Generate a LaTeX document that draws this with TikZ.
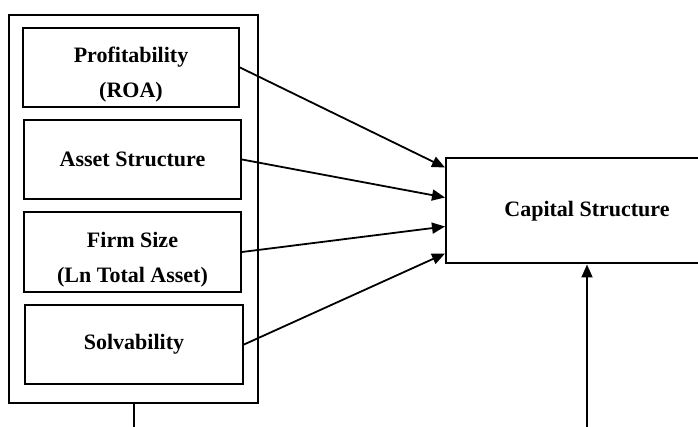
\documentclass[tikz,border=0pt]{standalone}
\usepackage{fontspec}
\setmainfont{Liberation Serif}
\usetikzlibrary{arrows.meta,calc}
\begin{document}
\begin{tikzpicture}[x=1pt,y=-1pt,
  box/.style={draw,line width=2pt,rectangle,inner sep=0pt,align=center,font=\bfseries\fontsize{22}{35}\selectfont},
  conn/.style={line width=1.8pt,-{Triangle[length=13pt,width=11pt]}},
  plain/.style={line width=2pt}]
\useasboundingbox (0,0) rectangle (698,427);
\clip (0,0) rectangle (698,427);
\node[box,minimum width=249pt,minimum height=388pt] (outer) at (133.5,209) {};
\node[box,minimum width=216pt,minimum height=79pt] (b1) at (131,67.5) {};
\node[box,minimum width=217pt,minimum height=79pt] (b2) at (132.5,159.5) {Asset Structure};
\node[box,minimum width=217pt,minimum height=80pt] (b3) at (132.5,252) {};
\node[box,minimum width=218pt,minimum height=79pt] (b4) at (134,344.5) {Solvability};
\node[box,minimum width=282pt,minimum height=105pt] (cap) at (587,211) {Capital Structure};
\node[box,draw=none,anchor=center] (l1) at ([yshift=-7pt]b1.center) {Profitability\\(ROA)};
\node[box,draw=none,anchor=center] (l3) at ([yshift=-8pt]b3.center) {Firm Size\\(Ln Total Asset)};
\coordinate (t1) at ([yshift=-10pt]cap.north west);
\coordinate (t2) at ([yshift=-40pt]cap.north west);
\coordinate (t3) at ([yshift=-69pt]cap.north west);
\coordinate (t4) at ([yshift=-96pt]cap.north west);
\coordinate (bl) at (outer.south |- 0,430);
\coordinate (br) at (cap.south |- 0,430);
\draw[conn] (b1.east) -- (t1);
\draw[conn] (b2.east) -- (t2);
\draw[conn] (b3.east) -- (t3);
\draw[conn] (b4.east) -- (t4);
\draw[plain] (outer.south) -- (bl);
\draw[conn] (br) -- (cap.south);
\end{tikzpicture}
\end{document}
